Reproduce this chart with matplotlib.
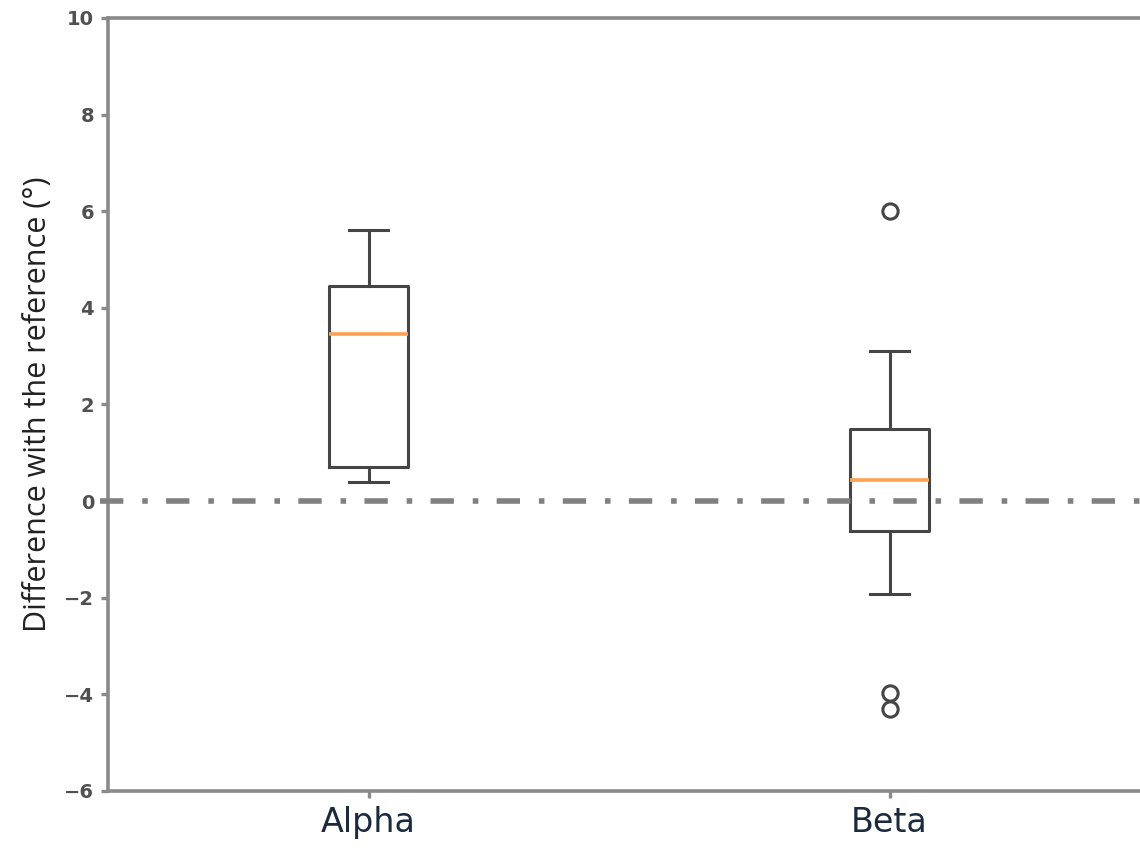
import matplotlib
matplotlib.use("Agg")
import matplotlib.pyplot as plt

# --- Data ---
labels = ["Alpha", "Beta"]
medians = [3.45, 0.44]
q1 = [0.71, -0.62]
q3 = [4.46, 1.49]
whis_low = [0.40, -1.92]
whis_high = [5.61, 3.11]
fliers = [[], [6.0, -3.97, -4.30]]

# box stats for bxp
stats = []
for i, name in enumerate(labels):
    stats.append({
        "label": name,
        "med": medians[i],
        "q1": q1[i],
        "q3": q3[i],
        "whislo": whis_low[i],
        "whishi": whis_high[i],
        "fliers": fliers[i],
    })

# --- Figure ---
fig = plt.figure(figsize=(11.4, 8.48), dpi=100)
ax = fig.add_axes([108/1140, 57/848, 1042/1140, 773/848])

line_col = "#454545"
ax.bxp(
    stats,
    widths=0.15,
    boxprops=dict(color=line_col, linewidth=2.2),
    whiskerprops=dict(color=line_col, linewidth=2.2),
    capprops=dict(color=line_col, linewidth=2.2),
    medianprops=dict(color="#ffa04f", linewidth=2.6),
    flierprops=dict(marker="o", markerfacecolor="none", markeredgecolor=line_col,
                    markersize=11, markeredgewidth=2.2),
)

# zero reference line (dash-dot)
ax.axhline(0, xmin=-0.008, xmax=1, color="#808080", linewidth=4,
           linestyle=(0, (4.2, 3.4, 1.0, 3.3)), clip_on=False, zorder=3)

ax.set_xlim(0.5, 2.5)
ax.set_ylim(-6, 10)
ax.set_yticks(range(-6, 11, 2))

# Labels
ax.set_ylabel("Difference with the reference (°)", family="Open Sans",
              fontsize=22, color="#222222", labelpad=8)
ax.set_xticklabels(labels, family="DejaVu Sans", fontsize=24, color="#1b2a3c")
for t in ax.get_yticklabels():
    t.set_fontsize(14)
    t.set_color("#505050")
    t.set_fontweight("bold")

# Spines & ticks
for side in ["left", "right", "top", "bottom"]:
    ax.spines[side].set_color("#8a8a8a")
    ax.spines[side].set_linewidth(2.6)
ax.tick_params(axis="both", colors="#8a8a8a", width=2.4, length=5)
ax.tick_params(axis="y", labelcolor="#505050", pad=5)
ax.tick_params(axis="x", labelcolor="#1b2a3c", pad=6)

fig.savefig("out.png", dpi=100)
plt.close(fig)
